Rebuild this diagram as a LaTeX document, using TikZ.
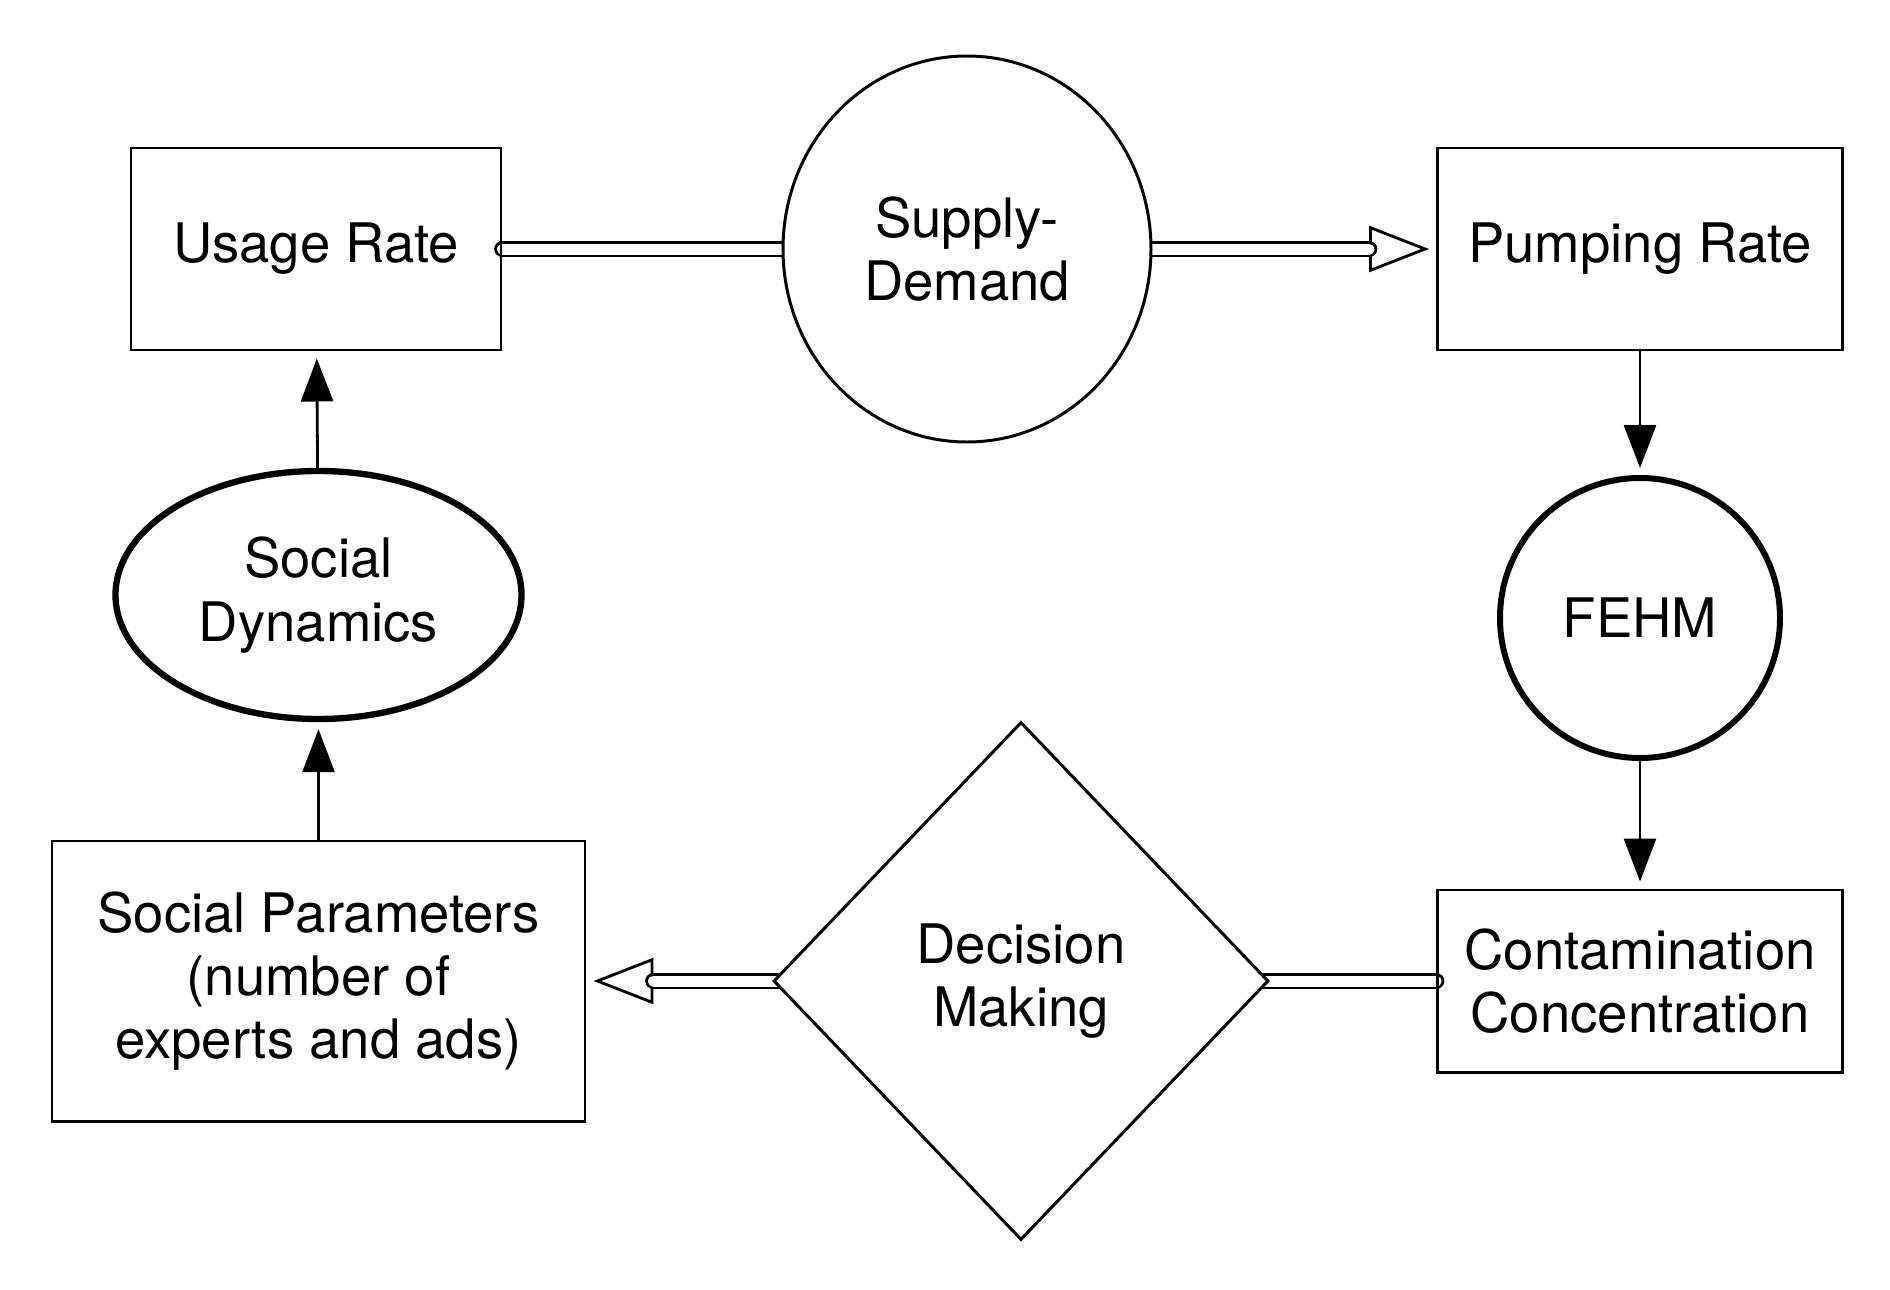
\documentclass[tikz,border=0pt]{standalone}
\usepackage{fontspec}
\setsansfont{TeX Gyre Heros}
\usepackage{tikz}
\tikzset{every picture/.style={/utils/exec={\sffamily}}}
\usetikzlibrary{arrows.meta, shapes.geometric, backgrounds}
\tikzset{
  every node/.style={font=\fontsize{15.5}{18}\selectfont, align=center},
  procbox/.style={draw, line width=0.85pt, rectangle, inner sep=0pt},
  modelnode/.style={draw, ellipse, fill=white, inner sep=0pt},
  pipe/.style={double, double distance=1.1mm, line width=0.8pt, line cap=round},
  pipetip/.style={line width=0.8pt, -{Triangle[open, length=6mm, width=4.6mm]}, shorten >=0.7mm},
  feed/.style={line width=0.8pt, -{Triangle[length=4.3mm, width=3.2mm]}, shorten >=0.7mm}
}

\begin{document}
\begin{tikzpicture}
    \useasboundingbox (0,0) rectangle (18.9,12.89);
    % top row
    \node[procbox, minimum width=3.7cm, minimum height=2.02cm] (usage) at (3.16, 10.40) {Usage Rate};
    \node[modelnode, line width=0.85pt, minimum width=3.68cm, minimum height=3.86cm] (supply) at (9.67, 10.40) {Supply-\\Demand};
    \node[procbox, minimum width=4.05cm, minimum height=2.02cm] (pumping) at (16.40, 10.40) {Pumping Rate};
    % right column
    \node[modelnode, line width=1.7pt, minimum width=2.8cm, minimum height=2.8cm] (fehm) at (16.40, 6.71) {FEHM};
    \node[procbox, minimum width=4.05cm, minimum height=1.82cm] (contam) at (16.40, 3.08) {Contamination\\Concentration};
    % bottom row
    \node[draw, diamond, fill=white, line width=0.85pt, inner sep=0pt, minimum width=4.95cm, minimum height=5.18cm] (decision) at (10.21, 3.08) {Decision\\Making};
    \node[procbox, minimum width=5.33cm, minimum height=2.8cm] (socparams) at (3.185, 3.08) {Social Parameters\\(number of\\experts and ads)};
    % left column
    \node[modelnode, line width=1.8pt, minimum width=4.06cm, minimum height=2.48cm] (socdyn) at (3.185, 6.94) {Social\\Dynamics};

    \begin{scope}[on background layer]
    \draw[pipe] (usage.east) -- (supply.center);
    \draw[pipetip] (supply.east) -- (pumping.west);
    \draw[pipe, shorten >=6.7mm] (supply.center) -- (pumping.west);
    \draw[pipe] (contam.west) -- (decision.center);
    \draw[pipetip] (decision.west) -- (socparams.east);
    \draw[pipe, shorten >=6.7mm] (decision.center) -- (socparams.east);
    \end{scope}
    \draw[feed] (pumping) -- (fehm);
    \draw[feed] (fehm) -- (contam);
    \draw[feed] (socparams) -- (socdyn);
    \draw[feed] (socdyn) -- (usage);
\end{tikzpicture}
\end{document}
